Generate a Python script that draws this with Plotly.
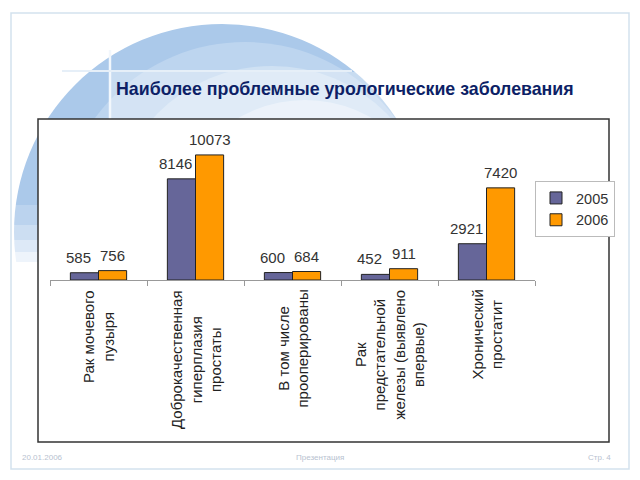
import plotly.graph_objects as go

# ---- data ----
categories = [
    "Рак мочевого<br>пузыря",
    "Доброкачественная<br>гиперплазия<br>простаты",
    "В том числе<br>прооперированы",
    "Рак<br>предстательной<br>железы (выявлено<br>впервые)",
    "Хронический<br>простатит",
]
series_names = ["2005", "2006"]
values_2005 = [585, 8146, 600, 452, 2921]
values_2006 = [756, 10073, 684, 911, 7420]
title_text = "Наиболее проблемные урологические заболевания"
footer_left = "20.01.2006"
footer_mid = "Презентация"
footer_right = "Стр. 4"

W, H = 640, 480


def px(x):
    return x / W


def py(y):
    return 1 - y / H


FONT = "Liberation Sans, Arial, sans-serif"
COL05 = "#666699"
COL06 = "#FF9900"
BARGAP = 0.42
CAT_PX = (535 - 50) / len(categories)
HALF_BAR = CAT_PX * (1 - BARGAP) / 4

fig = go.Figure()
for name, vals, col in [(series_names[0], values_2005, COL05),
                        (series_names[1], values_2006, COL06)]:
    fig.add_trace(go.Bar(
        name=name, x=categories, y=vals,
        marker=dict(color=col, line=dict(color="#222222", width=1)),
        hoverinfo="x+y",
    ))

shapes = []
# background sphere graphic
sphere = [
    (222, 232, 208, "#abc9ea"),
    (245, 228, 186, "#bdd5ef"),
    (272, 228, 162, "#cfe1f3"),
    (305, 232, 132, "#e2ecf8"),
    (335, 240, 100, "#eef4fb"),
]
for cx, cy, r, c in sphere:
    shapes.append(dict(type="circle", xref="paper", yref="paper",
                       x0=px(cx - r), x1=px(cx + r), y0=py(cy + r), y1=py(cy - r),
                       fillcolor=c, line=dict(width=0), layer="below"))
# fade the lower part of the sphere to white (left strip)
for i, (y0, y1) in enumerate([(205, 225), (225, 240), (240, 252), (252, 262), (262, 470)]):
    shapes.append(dict(type="rect", xref="paper", yref="paper",
                       x0=px(0), x1=px(40), y0=py(y1), y1=py(y0),
                       fillcolor="white", opacity=[0.2, 0.4, 0.6, 0.8, 1.0][i],
                       line=dict(width=0), layer="below"))
# light panel behind title
shapes.append(dict(type="rect", xref="paper", yref="paper",
                   x0=px(110), x1=px(640), y0=py(119), y1=py(72),
                   fillcolor="white", opacity=0.35, line=dict(width=0), layer="below"))
# decorative lines
shapes.append(dict(type="line", xref="paper", yref="paper",
                   x0=px(110), x1=px(110), y0=py(125), y1=py(50),
                   line=dict(color="#f2f7fc", width=2.5), layer="below"))
shapes.append(dict(type="line", xref="paper", yref="paper",
                   x0=px(62), x1=px(352), y0=py(71), y1=py(71),
                   line=dict(color="#e6eff8", width=2), layer="below"))
# slide border
shapes.append(dict(type="rect", xref="paper", yref="paper",
                   x0=px(11), x1=px(629), y0=py(469), y1=py(13),
                   fillcolor="rgba(0,0,0,0)", line=dict(color="#d3e2ee", width=1.5),
                   layer="below"))
# chart box
shapes.append(dict(type="rect", xref="paper", yref="paper",
                   x0=px(38), x1=px(609), y0=py(442), y1=py(119),
                   fillcolor="white", line=dict(color="#333333", width=1.5),
                   layer="below"))

annotations = []
# value labels
for vals, shift in [(values_2005, -HALF_BAR - 6), (values_2006, HALF_BAR)]:
    for c, v in zip(categories, vals):
        annotations.append(dict(
            x=c, y=v, xref="x", yref="y", text=str(v), showarrow=False,
            xshift=shift, yshift=5, xanchor="center", yanchor="bottom",
            font=dict(family=FONT, size=15, color="#333333"),
        ))
# category labels (rotated, centered lines)
for c in categories:
    annotations.append(dict(
        x=c, xref="x", y=py(288), yref="paper", text=c, showarrow=False,
        textangle=-90, xanchor="center", yanchor="top", align="center",
        font=dict(family=FONT, size=15, color="#222222"),
    ))
annotations.append(dict(
    x=px(114), y=py(89), xref="paper", yref="paper", text="<b>" + title_text + "</b>",
    showarrow=False, xanchor="left", yanchor="middle",
    font=dict(family=FONT, size=17.8, color="#0d1f66"),
))
for txt, x, anc in [(footer_left, 20, "left"), (footer_mid, 320, "center"),
                    (footer_right, 613, "right")]:
    annotations.append(dict(
        x=px(x), y=py(457), xref="paper", yref="paper", text=txt, showarrow=False,
        xanchor=anc, yanchor="middle", font=dict(family=FONT, size=8, color="#b8c2d0"),
    ))

fig.update_layout(
    width=W, height=H, autosize=False,
    margin=dict(l=0, r=0, t=0, b=0),
    paper_bgcolor="white", plot_bgcolor="rgba(0,0,0,0)",
    barmode="group", bargap=BARGAP, bargroupgap=0,
    shapes=shapes, annotations=annotations,
    showlegend=True,
    legend=dict(
        x=px(535), y=py(181), xanchor="left", yanchor="top",
        bgcolor="white", bordercolor="#bbbbbb", borderwidth=1,
        font=dict(family=FONT, size=14.5, color="#333333"),
        itemwidth=30,
    ),
    xaxis=dict(
        domain=[px(50), px(535)], showticklabels=False,
        showline=True, linecolor="#999999", linewidth=1,
        ticks="outside", tickson="boundaries", ticklen=5, tickcolor="#999999",
        showgrid=False, zeroline=False,
    ),
    yaxis=dict(
        domain=[py(280), py(131)], range=[0, 12000], visible=False,
        showgrid=False, zeroline=False,
    ),
)

fig.write_html("out.html")
